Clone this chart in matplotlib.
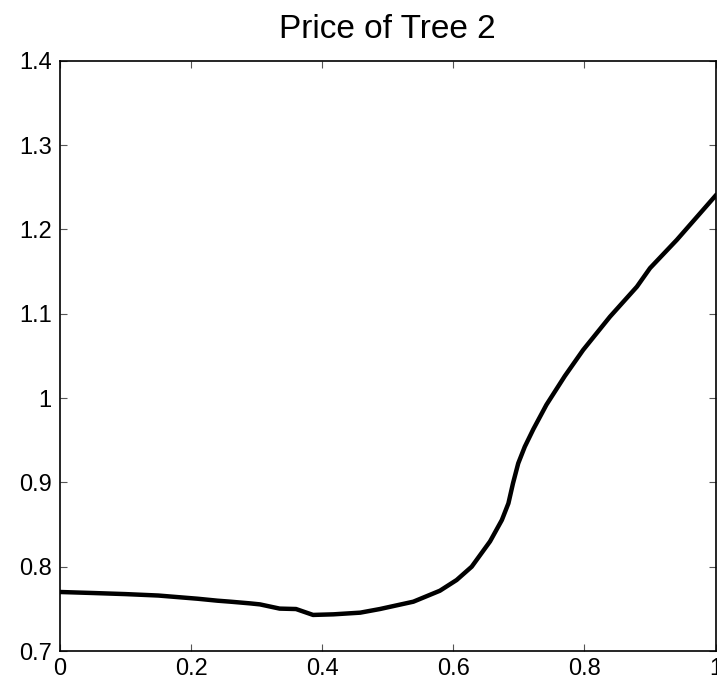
import matplotlib
matplotlib.use("Agg")
import matplotlib.pyplot as plt

plt.rcParams['font.family'] = ['Liberation Sans', 'DejaVu Sans']

# values
x = [0.0, 0.05, 0.10, 0.15, 0.21, 0.24, 0.26, 0.29, 0.305, 0.335, 0.36, 0.386,
     0.417, 0.458, 0.488, 0.539, 0.5795, 0.605, 0.628, 0.656, 0.674, 0.684,
     0.691, 0.699, 0.709, 0.722, 0.742, 0.770, 0.798, 0.839, 0.880, 0.900,
     0.941, 1.0]
price = [0.770, 0.7688, 0.7675, 0.7658, 0.7620, 0.7597, 0.7585, 0.7565, 0.7553,
         0.7503, 0.7498, 0.7428, 0.7435, 0.7455, 0.7498, 0.7585, 0.7715, 0.7842,
         0.800, 0.830, 0.8553, 0.8751, 0.8989, 0.9226, 0.9423, 0.963, 0.992,
         1.026, 1.057, 1.0965, 1.132, 1.154, 1.1876, 1.240]

xticks = [0, 0.2, 0.4, 0.6, 0.8, 1]
xticklabels = ['0', '0.2', '0.4', '0.6', '0.8', '1']
yticks = [0.7, 0.8, 0.9, 1.0, 1.1, 1.2, 1.3, 1.4]
yticklabels = ['0.7', '0.8', '0.9', '1', '1.1', '1.2', '1.3', '1.4']

fig = plt.figure(figsize=(7.17, 6.85), dpi=100)
ax = fig.add_axes([0.0837, 0.0496, 0.9143, 0.8618])
ax.plot(x, price, color='black', linewidth=3.2, solid_joinstyle='round')

ax.set_xlim(0, 1)
ax.set_ylim(0.7, 1.4)
ax.set_xticks(xticks)
ax.set_xticklabels(xticklabels)
ax.set_yticks(yticks)
ax.set_yticklabels(yticklabels)
ax.tick_params(direction='in', top=True, right=True, length=5, width=0.8,
               labelsize=17, color='#555555', pad=6)
ax.tick_params(axis='x', pad=5)
for s in ax.spines.values():
    s.set_linewidth(1.2)
ax.set_title('Price of Tree 2', fontsize=24, pad=16)

fig.savefig('out.png', dpi=100)
